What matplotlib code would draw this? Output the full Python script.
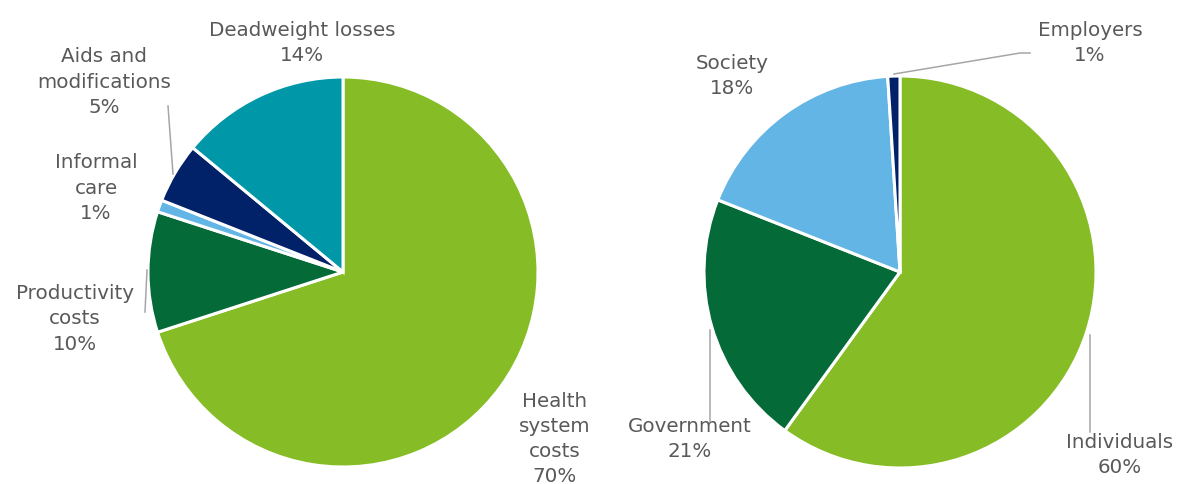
import matplotlib
matplotlib.use("Agg")
import matplotlib.pyplot as plt

# Data
cost_labels = ["Health\nsystem\ncosts", "Productivity\ncosts", "Informal\ncare",
               "Aids and\nmodifications", "Deadweight losses"]
cost_values = [70, 10, 1, 5, 14]
cost_colors = ["#86BC25", "#046A38", "#62B5E5", "#012169", "#0097A9"]

payer_labels = ["Individuals", "Government", "Society", "Employers"]
payer_values = [60, 21, 18, 1]
payer_colors = ["#86BC25", "#046A38", "#62B5E5", "#012169"]

W, H = 1182, 484
fig = plt.figure(figsize=(W / 100, H / 100), dpi=100)
ax = fig.add_axes([0, 0, 1, 1])

def Y(y):
    return H - y

wp = dict(edgecolor="white", linewidth=2.2)
ax.pie(cost_values, colors=cost_colors, startangle=90, counterclock=False,
       center=(343, Y(272)), radius=195, wedgeprops=wp, frame=True)
ax.pie(payer_values, colors=payer_colors, startangle=90, counterclock=False,
       center=(900, Y(272)), radius=196, wedgeprops=wp, frame=True)
ax.set_xlim(0, W)
ax.set_ylim(0, H)
ax.axis("off")

txt = dict(fontsize=14.3, color="#595959", ha="center", va="center",
           family="DejaVu Sans", linespacing=1.42)

def lab(name, val, x, y):
    ax.text(x, Y(y), f"{name}\n{val}%", **txt)

lab(cost_labels[4], cost_values[4], 302, 43)
lab(cost_labels[3], cost_values[3], 104, 82)
lab(cost_labels[2], cost_values[2], 96, 188)
lab(cost_labels[1], cost_values[1], 75, 319)
lab(cost_labels[0], cost_values[0], 555, 439)

lab(payer_labels[2], payer_values[2], 732, 76)
lab(payer_labels[3], payer_values[3], 1090, 43)
lab(payer_labels[1], payer_values[1], 690, 439)
lab(payer_labels[0], payer_values[0], 1120, 455)

lc = dict(color="#A6A6A6", linewidth=1.1)
ax.plot([168, 173], [Y(106), Y(174)], **lc)
ax.plot([147, 145], [Y(270), Y(312)], **lc)
ax.plot([894, 1020, 1030], [Y(74), Y(53), Y(53)], **lc)
ax.plot([710, 710], [Y(330), Y(422)], **lc)
ax.plot([1090, 1090], [Y(335), Y(432)], **lc)

fig.savefig("out.png", dpi=100, facecolor="white")
